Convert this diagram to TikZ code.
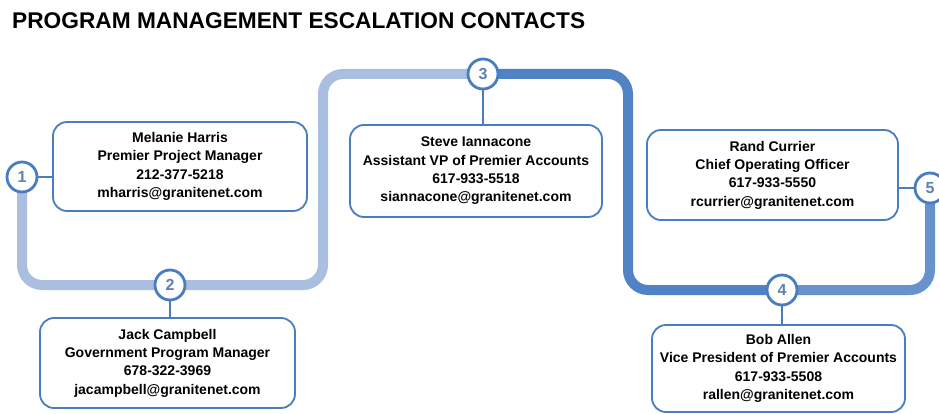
\documentclass[tikz,border=0pt]{standalone}
\usepackage{fontspec}
\setmainfont{Liberation Sans}
\definecolor{boxblue}{RGB}{74,124,192}
\definecolor{numblue}{RGB}{96,128,178}
\definecolor{trackblue}{RGB}{80,130,198}
\definecolor{fadeblue}{RGB}{170,190,224}
\definecolor{midblue}{RGB}{104,146,206}
\begin{document}
\begin{tikzpicture}[x=1pt,y=-1pt,
  contact/.style={draw=boxblue,line width=1.8pt,rounded corners=14pt,align=center,
    inner sep=0pt,font=\bfseries\fontsize{14}{18.3}\selectfont},
  num/.style={circle,draw=boxblue,line width=2.8pt,fill=white,minimum size=30pt,
    inner sep=0pt,text=numblue,font=\bfseries\fontsize{16}{16}\selectfont},
  track/.style={line width=10pt,rounded corners=20pt},
  link/.style={draw=boxblue,line width=1.5pt}]
\useasboundingbox (0,0) rectangle (939,414);
\node[anchor=west,inner sep=0pt,font=\bfseries\fontsize{22.7}{24}\selectfont] (title) at (12,21) {PROGRAM MANAGEMENT ESCALATION CONTACTS};
% stops on the track
\coordinate (p1) at (22,177);
\coordinate (p2) at (170,285);
\coordinate (p3) at (483,74);
\coordinate (p4) at (782,290);
\coordinate (p5) at (930,188);
\coordinate (k1) at (323,74);
\coordinate (k2) at (628,74);
\draw[track,fadeblue] (p1) |- (p2);
\draw[track,fadeblue] (p2) -| (k1) -- (p3);
\draw[track,trackblue] (p3) -- (k2) |- (p4);
\draw[track,midblue] (p4) -| (p5);
% contact boxes
\node[contact,minimum width=254pt,minimum height=89pt] (harris) at (180,166.5)
  {Melanie Harris\\Premier Project Manager\\212-377-5218\\mharris@granitenet.com};
\node[contact,minimum width=255pt,minimum height=90pt] (campbell) at (167.5,363)
  {Jack Campbell\\Government Program Manager\\678-322-3969\\jacampbell@granitenet.com};
\node[contact,minimum width=252pt,minimum height=92pt] (iannacone) at (476,171)
  {Steve Iannacone\\Assistant VP of Premier Accounts\\617-933-5518\\siannacone@granitenet.com};
\node[contact,minimum width=253pt,minimum height=87pt] (allen) at (778.5,368.5)
  {Bob Allen\\Vice President of Premier Accounts\\617-933-5508\\rallen@granitenet.com};
\node[contact,minimum width=251pt,minimum height=90pt] (currier) at (772.5,175)
  {Rand Currier\\Chief Operating Officer\\617-933-5550\\rcurrier@granitenet.com};
% numbered stops
\node[num] (n1) at (p1) {1};
\node[num] (n2) at (p2) {2};
\node[num] (n3) at (p3) {3};
\node[num] (n4) at (p4) {4};
\node[num] (n5) at (p5) {5};
\draw[link] (n1) -- (n1 -| harris.west);
\draw[link] (n2) -- (n2 |- campbell.north);
\draw[link] (n3) -- (n3 |- iannacone.north);
\draw[link] (n4) -- (n4 |- allen.north);
\draw[link] (n5) -- (n5 -| currier.east);
\end{tikzpicture}
\end{document}
